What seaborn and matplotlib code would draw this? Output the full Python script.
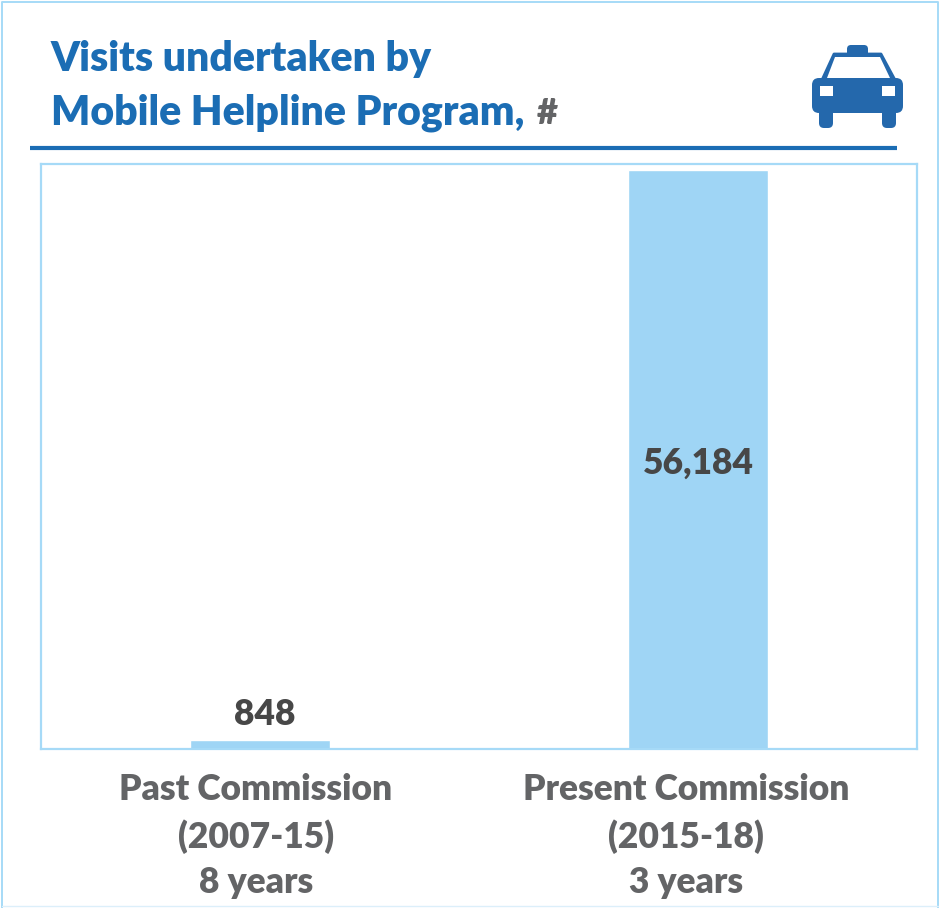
import matplotlib
matplotlib.use('Agg')
import matplotlib.pyplot as plt
from matplotlib.patches import FancyBboxPatch, Polygon, Rectangle
from matplotlib.transforms import ScaledTranslation
import pandas as pd
import seaborn as sns

# Chart data
commissions = ['Past Commission\n(2007-15)\n8 years', 'Present Commission\n(2015-18)\n3 years']
visits = [848, 56184]
value_labels = ['848', '56,184']
title_lines = ['Visits undertaken by', 'Mobile Helpline Program,']
unit_label = '#'

BAR_BLUE = '#9FD5F5'
FRAME_BLUE = '#A6DAF7'
TITLE_BLUE = '#1B6DB4'
ICON_BLUE = '#2468AC'
DARK_GREY = '#474747'
LABEL_GREY = '#636466'
W, H = 940, 908

sns.set_theme(style='white')
plt.rcParams['font.family'] = ['Lato', 'DejaVu Sans']

df = pd.DataFrame({'commission': commissions, 'visits': visits})

fig = plt.figure(figsize=(W / 100, H / 100), dpi=100, facecolor='white')

# Main bar chart
ax = fig.add_axes([41 / W, 1 - 749 / H, (917 - 41) / W, (749 - 164) / H])
sns.barplot(data=df, x='commission', y='visits', color=BAR_BLUE, width=0.32,
            saturation=1, ax=ax)
ax.set_xlim(-0.5, 1.5)
ax.set_ylim(0, 56770)
ax.set_xlabel('')
ax.set_ylabel('')
ax.set_yticks([])
ax.tick_params(axis='x', length=0, pad=17)
# the category labels sit a bit left of the bars in the original
label_shift = [-4, -12]
for lab, dx in zip(ax.get_xticklabels(), label_shift):
    lab.set_fontsize(25.5)
    lab.set_fontweight('heavy')
    lab.set_color(LABEL_GREY)
    lab.set_linespacing(1.47)
    lab.set_transform(lab.get_transform() + ScaledTranslation(dx / 100, 0, fig.dpi_scale_trans))
for spine in ax.spines.values():
    spine.set_color(FRAME_BLUE)
    spine.set_linewidth(1.6)

# Value labels
ax.annotate(value_labels[0], (0, visits[0]), xytext=(3.5, 6.5), textcoords='offset points',
            ha='center', va='bottom', fontsize=25.5, fontweight='heavy', color=DARK_GREY)
ax.annotate(value_labels[1], (1, visits[1] / 2), xytext=(0.5, -3), textcoords='offset points',
            ha='center', va='center', fontsize=25.5, fontweight='heavy', color=DARK_GREY)

# Overlay in pixel coordinates for the frame, title rule and icon
over = fig.add_axes([0, 0, 1, 1], zorder=5)
over.set_xlim(0, W)
over.set_ylim(H, 0)
over.axis('off')
over.patch.set_alpha(0)

over.plot([2, 2, 938, 938], [908, 2, 2, 908], color=FRAME_BLUE, lw=1.4)
over.plot([2, 938], [906, 906], color='#DCEFFA', lw=1)
over.plot([30, 897], [148, 148], color=TITLE_BLUE, lw=3, solid_capstyle='butt')

over.text(51, 71, title_lines[0], fontsize=29.5, fontweight='heavy', color=TITLE_BLUE, va='baseline')
over.text(51, 124, title_lines[1], fontsize=29.5, fontweight='heavy', color=TITLE_BLUE, va='baseline')
over.text(537, 124, unit_label, fontsize=26, fontweight='heavy', color=LABEL_GREY, va='baseline')

# Taxi icon
def rounded(x0, y0, x1, y1, r, color=ICON_BLUE):
    over.add_patch(FancyBboxPatch((x0 + r, y0 + r), x1 - x0 - 2 * r, y1 - y0 - 2 * r,
                                  boxstyle=f'round,pad={r}', fc=color, ec='none'))

rounded(847, 45, 868, 57, 4)
over.add_patch(Polygon([(822, 80), (834, 54), (881, 54), (895, 80)],
                       closed=True, fc=ICON_BLUE, ec=ICON_BLUE, lw=2, joinstyle='round'))
over.add_patch(Polygon([(827, 78), (835, 57), (880, 57), (890, 78)],
                       closed=True, fc='white', ec='none'))
rounded(812, 78, 903, 113, 7)
rounded(819, 108, 833, 128, 5)
rounded(882, 108, 896, 128, 5)
over.add_patch(Rectangle((820, 86), 13, 10, fc='white', ec='none'))
over.add_patch(Rectangle((882, 86), 13, 10, fc='white', ec='none'))

fig.savefig('out.png', dpi=100, facecolor='white')
plt.close(fig)
